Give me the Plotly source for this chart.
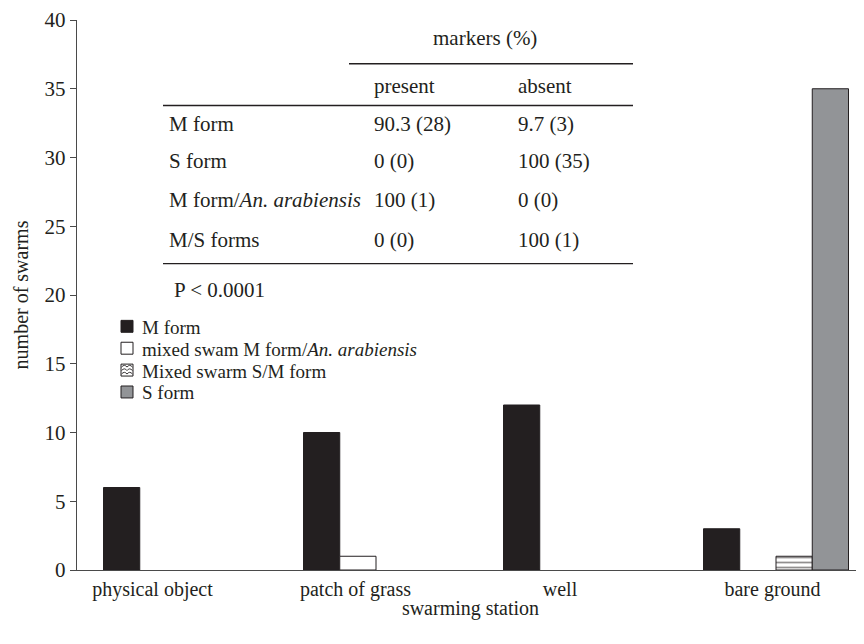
import plotly.graph_objects as go

# ---- data ----
stations = ["physical object", "patch of grass", "well", "bare ground"]
m_form = [6, 10, 12, 3]
mixed_m_arab = [0, 1, 0, 0]
mixed_sm = [0, 0, 0, 1]
s_form = [0, 0, 0, 35]

series_names = ["M form", "mixed swam M form/<i>An. arabiensis</i>",
                "Mixed swarm S/M form", "S form"]

# table inset
table_cols = ["present", "absent"]
table_rows = ["M form", "S form", "M form/<i>An. arabiensis</i>", "M/S forms"]
table_present = ["90.3 (28)", "0 (0)", "100 (1)", "0 (0)"]
table_absent = ["9.7 (3)", "100 (35)", "0 (0)", "100 (1)"]
table_header = "markers (%)"
p_value = "P < 0.0001"

FONT = "Liberation Serif, Times New Roman, serif"
TXT = "#231f20"
AX = "#4a4a4a"
M_COL = "#231f20"
S_COL = "#929497"

# page offset of the figure (browser body margin)
OFF = 8
# plot area in page pixels
L, T, W, H = 77, 17, 787, 553
FIG_W, FIG_H = 864 - OFF, 644 - OFF


def px(x):
    return (x - L) / W


def py(y):
    return (T + H - y) / H


def outline(vals):
    # no outline drawn for empty (zero-height) bars
    return [1 if v else 0 for v in vals]


# station label placement (offset from group centre, in category units)
label_offsets = [-0.1175, -0.1025, -0.08, -0.0175]

fig = go.Figure()
fig.add_bar(x=stations, y=m_form, name=series_names[0],
            marker=dict(color=M_COL, line=dict(color=M_COL, width=outline(m_form))))
fig.add_bar(x=stations, y=mixed_m_arab, name=series_names[1],
            marker=dict(color="white", line=dict(color=M_COL, width=outline(mixed_m_arab))))
fig.add_bar(x=stations, y=mixed_sm, name=series_names[2],
            marker=dict(color="white", line=dict(color=M_COL, width=outline(mixed_sm)),
                        pattern=dict(shape="-", fgcolor=M_COL, bgcolor="white",
                                     size=5, solidity=0.35)))
fig.add_bar(x=stations, y=s_form, name=series_names[3],
            marker=dict(color=S_COL, line=dict(color=M_COL, width=outline(s_form))))
# carrier for the station label axis
fig.add_scatter(x=[None], y=[None], xaxis="x2", showlegend=False, hoverinfo="skip")

annotations = []
shapes = []


def txt(x, y, s, anchor="left", size=21):
    annotations.append(dict(x=px(x), y=py(y), xref="paper", yref="paper", text=s,
                            showarrow=False, xanchor=anchor, yanchor="middle",
                            font=dict(family=FONT, size=size, color=TXT)))


# table
txt(485, 35, table_header, "center")
txt(372, 83, table_cols[0])
txt(516, 83, table_cols[1])
row_y = [122, 159, 198, 238]
for name, pr, ab, yy in zip(table_rows, table_present, table_absent, row_y):
    txt(167, yy, name)
    txt(372, yy, pr)
    txt(516, yy, ab)
txt(172, 288, p_value)

for x0, x1, yy in [(349, 633, 61), (163, 633, 103), (163, 633, 262)]:
    shapes.append(dict(type="line", xref="paper", yref="paper",
                       x0=px(x0), x1=px(x1), y0=py(yy), y1=py(yy),
                       line=dict(color=TXT, width=1.4)))

# legend (manual, to match tight row spacing)
leg_y = [325, 347, 369, 391]
leg_fill = [M_COL, "white", "white", S_COL]
for i, (name, yy, fc) in enumerate(zip(series_names, leg_y, leg_fill)):
    shapes.append(dict(type="rect", xref="paper", yref="paper",
                       x0=px(121), x1=px(133), y0=py(yy - 6), y1=py(yy + 6),
                       fillcolor=fc, line=dict(color=M_COL, width=1)))
    if i == 2:
        for dy in (-3, 0.5, 4):
            yb = yy + dy
            path = "M {},{} Q {},{} {},{} Q {},{} {},{}".format(
                px(121.5), py(yb), px(124.5), py(yb - 3.5), px(127), py(yb),
                px(129.5), py(yb - 3.5), px(132.5), py(yb))
            shapes.append(dict(type="path", xref="paper", yref="paper", path=path,
                               line=dict(color=M_COL, width=0.9)))
    txt(140, yy + 1, name, size=19)

fig.update_layout(
    width=FIG_W, height=FIG_H,
    margin=dict(l=L - OFF, r=0, t=T - OFF, b=FIG_H + OFF - (T + H)),
    paper_bgcolor="white", plot_bgcolor="white",
    barmode="group", bargap=0.275, bargroupgap=0,
    font=dict(family=FONT, color=TXT, size=21),
    showlegend=False,
    annotations=annotations, shapes=shapes,
    xaxis=dict(type="category", range=[-0.495, 3.44], showline=True, linecolor=AX,
               linewidth=1.4, ticks="", showgrid=False, zeroline=False,
               showticklabels=False,
               title=dict(text="swarming station", standoff=30,
                          font=dict(family=FONT, size=20, color=TXT))),
    xaxis2=dict(overlaying="x", anchor="y", side="bottom", range=[-0.495, 3.44],
                tickvals=[i + o for i, o in enumerate(label_offsets)],
                ticktext=stations, ticks="", showline=False, showgrid=False,
                zeroline=False, ticklabelstandoff=5,
                tickfont=dict(family=FONT, size=20, color=TXT)),
    yaxis=dict(range=[0, 40], dtick=5, showline=True, linecolor=AX, linewidth=1.4,
               ticks="outside", ticklen=6, tickcolor=AX, tickwidth=1.2,
               showgrid=False, zeroline=False, ticklabeloverflow="allow",
               tickfont=dict(family=FONT, size=21, color=TXT),
               title=dict(text="number of swarms", standoff=10,
                          font=dict(family=FONT, size=20, color=TXT))),
)

fig.write_html("out.html")
